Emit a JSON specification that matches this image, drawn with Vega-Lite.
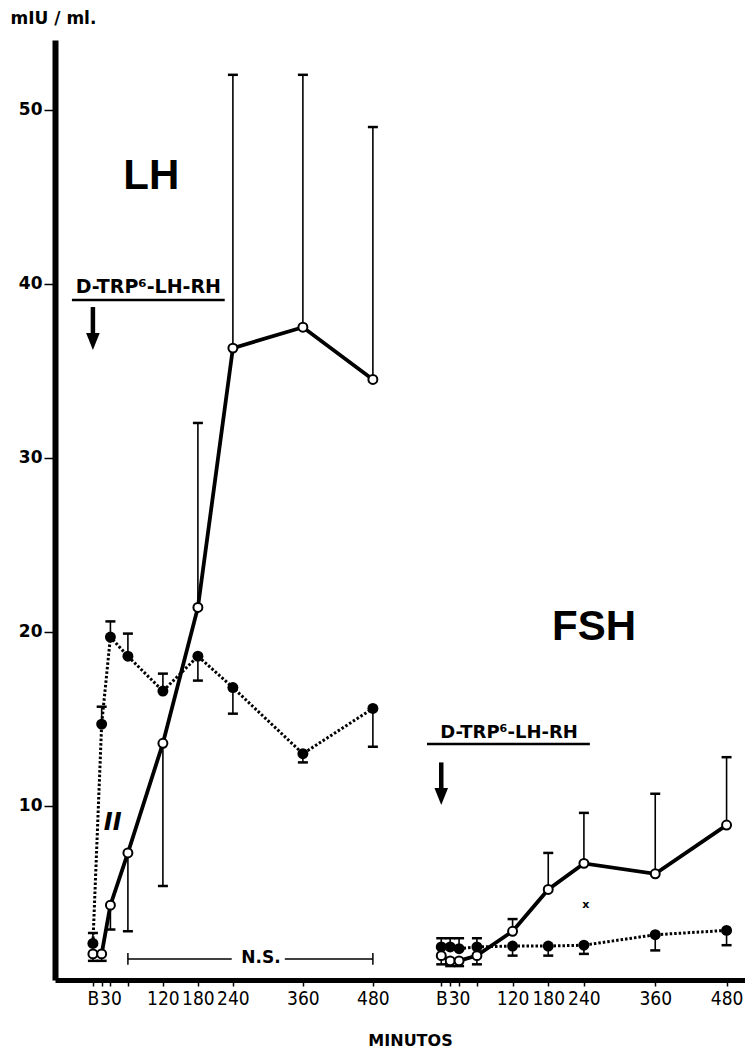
{
  "$schema": "https://vega.github.io/schema/vega-lite/v6.json",
  "autosize": {"type": "none"},
  "width": 690,
  "height": 940,
  "padding": {"left": 55, "top": 40, "right": 0, "bottom": 74},
  "background": "white",
  "config": {
    "view": {"stroke": null},
    "axis": {"grid": false, "domainColor": "black", "tickColor": "black", "labelColor": "black", "titleColor": "black"},
    "axisY": {
      "domainWidth": 6, "tickSize": 11, "tickWidth": 1.5,
      "labelPadding": 2, "labelFont": "DejaVu Sans", "labelFontSize": 17, "labelFontWeight": "bold",
      "titleAngle": 0, "titleX": -45, "titleY": -30, "titleAlign": "left", "titleBaseline": "top",
      "titleFont": "DejaVu Sans", "titleFontSize": 17, "titleFontWeight": "bold"
    }
  },
  "datasets": {
    "hormonas": [
      {"h": "LH", "g": "I", "t": 0, "v": 1.5, "e": 1.1},
      {"h": "LH", "g": "I", "t": 15, "v": 1.5, "e": 1.1},
      {"h": "LH", "g": "I", "t": 30, "v": 4.3, "e": 2.9},
      {"h": "LH", "g": "I", "t": 60, "v": 7.3, "e": 2.8},
      {"h": "LH", "g": "I", "t": 120, "v": 13.6, "e": 5.4},
      {"h": "LH", "g": "I", "t": 180, "v": 21.4, "e": 32.0},
      {"h": "LH", "g": "I", "t": 240, "v": 36.3, "e": 52.0},
      {"h": "LH", "g": "I", "t": 360, "v": 37.5, "e": 52.0},
      {"h": "LH", "g": "I", "t": 480, "v": 34.5, "e": 49.0},
      {"h": "LH", "g": "II", "t": 0, "v": 2.1, "e": 2.7},
      {"h": "LH", "g": "II", "t": 15, "v": 14.7, "e": 15.7},
      {"h": "LH", "g": "II", "t": 30, "v": 19.7, "e": 20.6},
      {"h": "LH", "g": "II", "t": 60, "v": 18.6, "e": 19.9},
      {"h": "LH", "g": "II", "t": 120, "v": 16.6, "e": 17.6},
      {"h": "LH", "g": "II", "t": 180, "v": 18.6, "e": 17.2},
      {"h": "LH", "g": "II", "t": 240, "v": 16.8, "e": 15.3},
      {"h": "LH", "g": "II", "t": 360, "v": 13.0, "e": 12.5},
      {"h": "LH", "g": "II", "t": 480, "v": 15.6, "e": 13.4},
      {"h": "FSH", "g": "I", "t": 0, "v": 1.4, "e": 0.9},
      {"h": "FSH", "g": "I", "t": 15, "v": 1.1, "e": 0.8},
      {"h": "FSH", "g": "I", "t": 30, "v": 1.1, "e": 0.8},
      {"h": "FSH", "g": "I", "t": 60, "v": 1.4, "e": 0.9},
      {"h": "FSH", "g": "I", "t": 120, "v": 2.8, "e": 3.5},
      {"h": "FSH", "g": "I", "t": 180, "v": 5.2, "e": 7.3},
      {"h": "FSH", "g": "I", "t": 240, "v": 6.7, "e": 9.6},
      {"h": "FSH", "g": "I", "t": 360, "v": 6.1, "e": 10.7},
      {"h": "FSH", "g": "I", "t": 480, "v": 8.9, "e": 12.8},
      {"h": "FSH", "g": "II", "t": 0, "v": 1.9, "e": 2.4},
      {"h": "FSH", "g": "II", "t": 15, "v": 1.9, "e": 2.4},
      {"h": "FSH", "g": "II", "t": 30, "v": 1.8, "e": 2.4},
      {"h": "FSH", "g": "II", "t": 60, "v": 1.9, "e": 2.4},
      {"h": "FSH", "g": "II", "t": 120, "v": 1.95, "e": 1.4},
      {"h": "FSH", "g": "II", "t": 180, "v": 1.95, "e": 1.4},
      {"h": "FSH", "g": "II", "t": 240, "v": 2.0, "e": 1.5},
      {"h": "FSH", "g": "II", "t": 360, "v": 2.6, "e": 1.7},
      {"h": "FSH", "g": "II", "t": 480, "v": 2.85, "e": 2.0}
    ],
    "rotulos": [
      {"h": "LH", "tipo": "hormona", "t": 100, "v": 46.2, "txt": "LH"},
      {"h": "FSH", "tipo": "hormona", "t": 257, "v": 20.3, "txt": "FSH"},
      {"h": "LH", "tipo": "agente", "t": 95, "v": 39.8, "txt": "D-TRP⁶-LH-RH"},
      {"h": "FSH", "tipo": "agente", "t": 114, "v": 14.2, "txt": "D-TRP⁶-LH-RH"},
      {"h": "LH", "tipo": "prueba", "t": 288, "v": 1.25, "txt": "N.S."},
      {"h": "LH", "tipo": "signo", "t": 34, "v": 9.0, "txt": "II"},
      {"h": "FSH", "tipo": "asterisco", "t": 243, "v": 4.3, "txt": "x"}
    ],
    "trazos": [
      {"h": "LH", "tipo": "subrayado", "t": -36, "t2": 226, "v": 39.07, "v2": 39.07},
      {"h": "FSH", "tipo": "subrayado", "t": -24, "t2": 250, "v": 13.56, "v2": 13.56},
      {"h": "LH", "tipo": "flecha", "t": 0, "t2": 0, "v": 38.66, "v2": 37.0},
      {"h": "FSH", "tipo": "flecha", "t": 0, "t2": 0, "v": 12.5, "v2": 10.9},
      {"h": "LH", "tipo": "corchete", "t": 60, "t2": 238, "v": 1.2, "v2": 1.2},
      {"h": "LH", "tipo": "corchete", "t": 329, "t2": 480, "v": 1.2, "v2": 1.2},
      {"h": "LH", "tipo": "corchete", "t": 60, "t2": 60, "v": 0.88, "v2": 1.55},
      {"h": "LH", "tipo": "corchete", "t": 480, "t2": 480, "v": 0.88, "v2": 1.55}
    ],
    "puntas": [
      {"h": "LH", "t": 0, "v": 36.68},
      {"h": "FSH", "t": 0, "v": 10.54}
    ]
  },
  "encoding": {
    "y": {
      "field": "v", "type": "quantitative",
      "scale": {"domain": [0, 54], "nice": false, "zero": false},
      "axis": {"title": "mIU / ml.", "orient": "left", "values": [10, 20, 30, 40, 50]}
    }
  },
  "resolve": {"scale": {"x": "independent", "y": "shared"}, "axis": {"x": "independent"}},
  "layer": [
    {
      "encoding": {
        "x": {
          "field": "t", "type": "quantitative",
          "scale": {"domain": [-65, 1118], "nice": false, "zero": false},
          "axis": {
            "orient": "bottom",
            "values": [0, 15, 30, 60, 120, 180, 240, 360, 480],
            "labelExpr": "datum.value === 0 ? 'B' : (datum.value === 15 || datum.value === 60) ? '' : datum.label",
            "format": "d",
            "domainWidth": 5, "tickSize": 6, "tickWidth": 1.5,
            "labelPadding": 3, "labelFont": "Liberation Sans Narrow, DejaVu Sans Condensed, sans-serif",
            "labelFontSize": 19, "labelOverlap": false, "labelFlush": false, "labelBound": false,
            "title": "MINUTOS", "titleX": 355, "titleY": 60, "titleAlign": "center", "titleBaseline": "middle",
            "titleFont": "DejaVu Sans", "titleFontSize": 16, "titleFontWeight": "bold"
          }
        }
      },
      "layer": [
        {
          "data": {"name": "trazos"},
          "transform": [{"filter": "datum.h === 'LH' && datum.tipo === 'subrayado'"}],
          "mark": {"type": "rule", "color": "black", "strokeWidth": 2.5},
          "encoding": {"x2": {"field": "t2"}, "y2": {"field": "v2"}}
        },
        {
          "data": {"name": "trazos"},
          "transform": [{"filter": "datum.h === 'LH' && datum.tipo === 'corchete'"}],
          "mark": {"type": "rule", "color": "black", "strokeWidth": 1.5},
          "encoding": {"x2": {"field": "t2"}, "y2": {"field": "v2"}}
        },
        {
          "data": {"name": "trazos"},
          "transform": [{"filter": "datum.h === 'LH' && datum.tipo === 'flecha'"}],
          "mark": {"type": "rule", "color": "black", "strokeWidth": 4.5},
          "encoding": {"x2": {"field": "t2"}, "y2": {"field": "v2"}}
        },
        {
          "data": {"name": "puntas"},
          "transform": [{"filter": "datum.h === 'LH'"}],
          "mark": {"type": "point", "shape": "M-0.8,-1L0.8,-1L0,1Z", "filled": true, "color": "black", "size": 289, "opacity": 1}
        },
        {
          "data": {"name": "hormonas"},
          "transform": [{"filter": "datum.h === 'LH'"}],
          "mark": {"type": "rule", "color": "black", "strokeWidth": 1.6},
          "encoding": {"y2": {"field": "e"}}
        },
        {
          "data": {"name": "hormonas"},
          "transform": [{"filter": "datum.h === 'LH'"}],
          "mark": {"type": "point", "shape": "M-1,0L1,0", "filled": false, "color": "black", "strokeWidth": 2.5, "size": 100, "opacity": 1},
          "encoding": {
            "y": {"field": "e", "type": "quantitative", "scale": {"domain": [0, 54], "nice": false, "zero": false},
                  "axis": {"title": "mIU / ml.", "orient": "left", "values": [10, 20, 30, 40, 50]}}
          }
        },
        {
          "data": {"name": "hormonas"},
          "transform": [{"filter": "datum.h === 'LH' && datum.g === 'II'"}],
          "mark": {"type": "line", "color": "black", "strokeWidth": 3, "strokeDash": [2.5, 2]}
        },
        {
          "data": {"name": "hormonas"},
          "transform": [{"filter": "datum.h === 'LH' && datum.g === 'I'"}],
          "mark": {"type": "line", "color": "black", "strokeWidth": 3.8}
        },
        {
          "data": {"name": "hormonas"},
          "transform": [{"filter": "datum.h === 'LH' && datum.g === 'II'"}],
          "mark": {"type": "point", "shape": "circle", "filled": true, "color": "black", "size": 120, "opacity": 1}
        },
        {
          "data": {"name": "hormonas"},
          "transform": [{"filter": "datum.h === 'LH' && datum.g === 'I'"}],
          "mark": {"type": "point", "shape": "circle", "filled": true, "fill": "white", "stroke": "black", "strokeWidth": 2, "size": 80, "opacity": 1}
        },
        {
          "data": {"name": "rotulos"},
          "transform": [{"filter": "datum.h === 'LH' && datum.tipo === 'hormona'"}],
          "mark": {"type": "text", "font": "Liberation Sans", "fontSize": 42, "fontWeight": "bold", "color": "black", "baseline": "middle", "align": "center"},
          "encoding": {"text": {"field": "txt"}}
        },
        {
          "data": {"name": "rotulos"},
          "transform": [{"filter": "datum.h === 'LH' && datum.tipo === 'agente'"}],
          "mark": {"type": "text", "font": "DejaVu Sans", "fontSize": 19, "fontWeight": "bold", "color": "black", "baseline": "middle", "align": "center"},
          "encoding": {"text": {"field": "txt"}}
        },
        {
          "data": {"name": "rotulos"},
          "transform": [{"filter": "datum.h === 'LH' && datum.tipo === 'prueba'"}],
          "mark": {"type": "text", "font": "DejaVu Sans", "fontSize": 17, "fontWeight": "bold", "color": "black", "baseline": "middle", "align": "center"},
          "encoding": {"text": {"field": "txt"}}
        },
        {
          "data": {"name": "rotulos"},
          "transform": [{"filter": "datum.h === 'LH' && datum.tipo === 'signo'"}],
          "mark": {"type": "text", "font": "DejaVu Sans", "fontSize": 24, "fontWeight": "bold", "fontStyle": "italic", "color": "black", "baseline": "middle", "align": "center"},
          "encoding": {"text": {"field": "txt"}}
        }
      ]
    },
    {
      "encoding": {
        "x": {
          "field": "t", "type": "quantitative",
          "scale": {"domain": [-649.8, 511], "nice": false, "zero": false},
          "axis": {
            "orient": "bottom",
            "values": [0, 15, 30, 60, 120, 180, 240, 360, 480],
            "labelExpr": "datum.value === 0 ? 'B' : (datum.value === 15 || datum.value === 60) ? '' : datum.label",
            "format": "d",
            "domain": false, "tickSize": 6, "tickWidth": 1.5,
            "labelPadding": 3, "labelFont": "Liberation Sans Narrow, DejaVu Sans Condensed, sans-serif",
            "labelFontSize": 19, "labelOverlap": false, "labelFlush": false, "labelBound": false,
            "title": null
          }
        },
        "y": {
          "field": "v", "type": "quantitative",
          "scale": {"domain": [0, 54], "nice": false, "zero": false},
          "axis": {"orient": "right", "domain": false, "ticks": false, "labels": false, "title": null}
        }
      },
      "layer": [
        {
          "data": {"name": "trazos"},
          "transform": [{"filter": "datum.h === 'FSH' && datum.tipo === 'subrayado'"}],
          "mark": {"type": "rule", "color": "black", "strokeWidth": 2.5},
          "encoding": {"x2": {"field": "t2"}, "y2": {"field": "v2"}}
        },
        {
          "data": {"name": "trazos"},
          "transform": [{"filter": "datum.h === 'FSH' && datum.tipo === 'flecha'"}],
          "mark": {"type": "rule", "color": "black", "strokeWidth": 4.5},
          "encoding": {"x2": {"field": "t2"}, "y2": {"field": "v2"}}
        },
        {
          "data": {"name": "puntas"},
          "transform": [{"filter": "datum.h === 'FSH'"}],
          "mark": {"type": "point", "shape": "M-0.8,-1L0.8,-1L0,1Z", "filled": true, "color": "black", "size": 289, "opacity": 1}
        },
        {
          "data": {"name": "hormonas"},
          "transform": [{"filter": "datum.h === 'FSH'"}],
          "mark": {"type": "rule", "color": "black", "strokeWidth": 1.6},
          "encoding": {"y2": {"field": "e"}}
        },
        {
          "data": {"name": "hormonas"},
          "transform": [{"filter": "datum.h === 'FSH'"}],
          "mark": {"type": "point", "shape": "M-1,0L1,0", "filled": false, "color": "black", "strokeWidth": 2.5, "size": 100, "opacity": 1},
          "encoding": {
            "y": {"field": "e", "type": "quantitative", "scale": {"domain": [0, 54], "nice": false, "zero": false},
                  "axis": {"orient": "right", "domain": false, "ticks": false, "labels": false, "title": null}}
          }
        },
        {
          "data": {"name": "hormonas"},
          "transform": [{"filter": "datum.h === 'FSH' && datum.g === 'II'"}],
          "mark": {"type": "line", "color": "black", "strokeWidth": 3, "strokeDash": [2.5, 2]}
        },
        {
          "data": {"name": "hormonas"},
          "transform": [{"filter": "datum.h === 'FSH' && datum.g === 'I'"}],
          "mark": {"type": "line", "color": "black", "strokeWidth": 3.8}
        },
        {
          "data": {"name": "hormonas"},
          "transform": [{"filter": "datum.h === 'FSH' && datum.g === 'II'"}],
          "mark": {"type": "point", "shape": "circle", "filled": true, "color": "black", "size": 120, "opacity": 1}
        },
        {
          "data": {"name": "hormonas"},
          "transform": [{"filter": "datum.h === 'FSH' && datum.g === 'I'"}],
          "mark": {"type": "point", "shape": "circle", "filled": true, "fill": "white", "stroke": "black", "strokeWidth": 2, "size": 80, "opacity": 1}
        },
        {
          "data": {"name": "rotulos"},
          "transform": [{"filter": "datum.h === 'FSH' && datum.tipo === 'hormona'"}],
          "mark": {"type": "text", "font": "Liberation Sans", "fontSize": 42, "fontWeight": "bold", "color": "black", "baseline": "middle", "align": "center"},
          "encoding": {"text": {"field": "txt"}}
        },
        {
          "data": {"name": "rotulos"},
          "transform": [{"filter": "datum.h === 'FSH' && datum.tipo === 'agente'"}],
          "mark": {"type": "text", "font": "DejaVu Sans", "fontSize": 18, "fontWeight": "bold", "color": "black", "baseline": "middle", "align": "center"},
          "encoding": {"text": {"field": "txt"}}
        },
        {
          "data": {"name": "rotulos"},
          "transform": [{"filter": "datum.h === 'FSH' && datum.tipo === 'asterisco'"}],
          "mark": {"type": "text", "font": "DejaVu Sans", "fontSize": 11, "fontWeight": "bold", "color": "black", "baseline": "middle", "align": "center"},
          "encoding": {"text": {"field": "txt"}}
        }
      ]
    }
  ]
}
